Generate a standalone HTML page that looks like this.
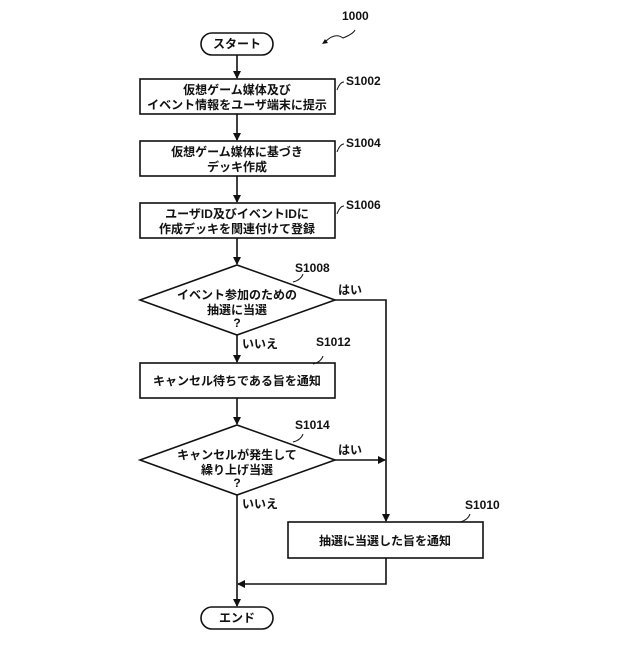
<!DOCTYPE html>
<html><head><meta charset="utf-8"><style>
body{margin:0;background:#fff}
text{font-family:"Liberation Sans","Noto Sans CJK JP",sans-serif;font-size:12px;font-weight:bold;fill:#111}
</style></head><body>
<svg width="640" height="640" viewBox="0 0 640 640" xmlns="http://www.w3.org/2000/svg">
<defs><marker id="a" markerWidth="8" markerHeight="8" refX="7" refY="4" orient="auto" markerUnits="userSpaceOnUse"><path d="M0,0 L8,4 L0,8 z" fill="#111"/></marker></defs>
<g stroke="#111" stroke-width="1.6" fill="none">
<rect x="201" y="33" width="72" height="22" rx="11"/>
<rect x="140" y="79" width="195" height="35"/>
<rect x="140" y="141" width="195" height="35"/>
<rect x="140" y="203" width="195" height="35"/>
<polygon points="237,265 335,300 237,335 140,300"/>
<rect x="140" y="363" width="195" height="35"/>
<polygon points="237,425 335,460 237,495 140,460"/>
<rect x="288" y="522" width="195" height="36"/>
<rect x="201" y="607" width="72" height="22" rx="11"/>
<line x1="237" y1="55" x2="237" y2="78" marker-end="url(#a)"/>
<line x1="237" y1="114" x2="237" y2="140" marker-end="url(#a)"/>
<line x1="237" y1="176" x2="237" y2="202" marker-end="url(#a)"/>
<line x1="237" y1="238" x2="237" y2="264" marker-end="url(#a)"/>
<line x1="237" y1="335" x2="237" y2="362" marker-end="url(#a)"/>
<line x1="237" y1="398" x2="237" y2="424" marker-end="url(#a)"/>
<line x1="237" y1="495" x2="237" y2="606" marker-end="url(#a)"/>
<polyline points="335,300 386,300 386,521" marker-end="url(#a)"/>
<line x1="335" y1="460" x2="385" y2="460" marker-end="url(#a)"/>
<polyline points="386,558 386,584 238,584" marker-end="url(#a)"/>
<path d="M337,90 q3,-8 7,-8" stroke-width="1"/>
<path d="M337,152 q3,-8 7,-8" stroke-width="1"/>
<path d="M337,214 q3,-8 7,-8" stroke-width="1"/>
<path d="M293,282 q8,-2 10,-8" stroke-width="1"/>
<path d="M313,364 q8,-2 10,-8" stroke-width="1"/>
<path d="M293,442 q8,-2 10,-8" stroke-width="1"/>
<path d="M460,522 q8,-2 10,-8" stroke-width="1"/>
<path d="M325,42 q10,-10 18,-4 q10,-4 12,-8" stroke-width="1"/>
</g>
<path d="M322,44 l6,-1 l-3,-4 z" fill="#111"/>
<g text-anchor="middle">
<text x="237" y="48">スタート</text>
<text x="237" y="94">仮想ゲーム媒体及び</text>
<text x="237" y="109">イベント情報をユーザ端末に提示</text>
<text x="237" y="156">仮想ゲーム媒体に基づき</text>
<text x="237" y="171">デッキ作成</text>
<text x="237" y="218">ユーザID及びイベントIDに</text>
<text x="237" y="233">作成デッキを関連付けて登録</text>
<text x="237" y="299">イベント参加のための</text>
<text x="237" y="314">抽選に当選</text>
<text x="237" y="327">?</text>
<text x="237" y="385">キャンセル待ちである旨を通知</text>
<text x="237" y="459">キャンセルが発生して</text>
<text x="237" y="474">繰り上げ当選</text>
<text x="237" y="487">?</text>
<text x="385" y="545">抽選に当選した旨を通知</text>
<text x="237" y="622">エンド</text>
</g>
<text x="342" y="20">1000</text>
<text x="346" y="85">S1002</text>
<text x="346" y="147">S1004</text>
<text x="346" y="209">S1006</text>
<text x="295" y="272">S1008</text>
<text x="316" y="346">S1012</text>
<text x="295" y="429">S1014</text>
<text x="465" y="509">S1010</text>
<text x="338" y="294">はい</text>
<text x="338" y="454">はい</text>
<text x="242" y="348">いいえ</text>
<text x="242" y="508">いいえ</text>
</svg>
</body></html>
